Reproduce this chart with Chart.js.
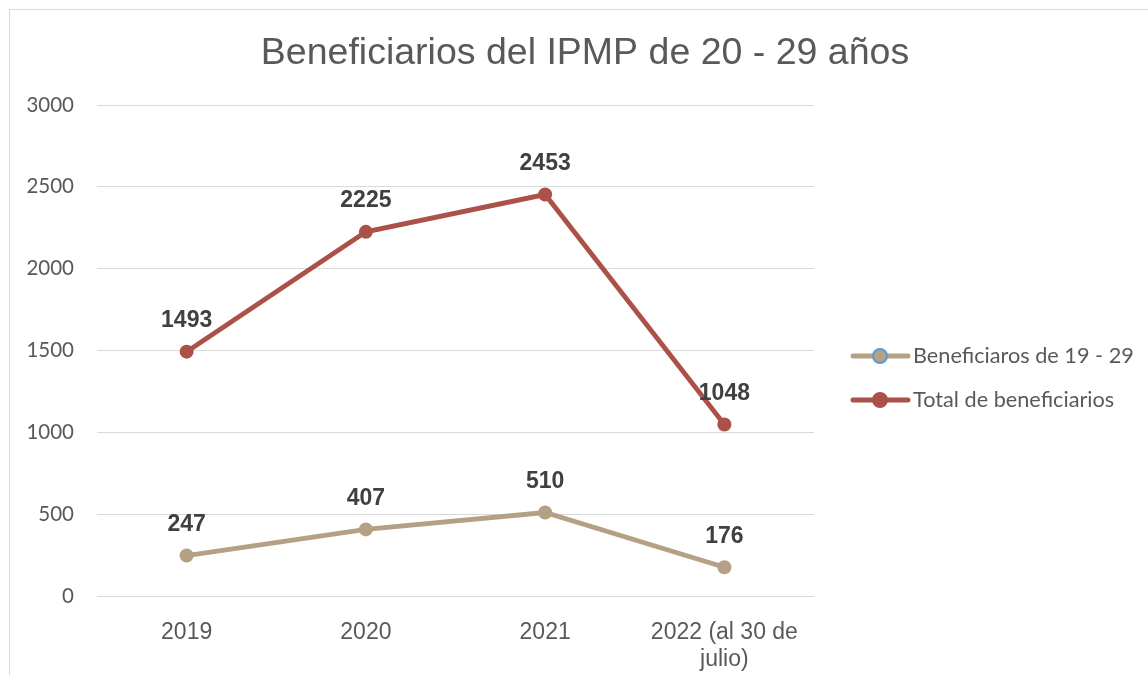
<!DOCTYPE html>
<html>
<head>
<meta charset="utf-8">
<script src="https://cdn.jsdelivr.net/npm/chart.js@4"></script>
<style>
    body { margin: 0; background: #fff; overflow: hidden; }
    .frame { position: absolute; left: 9px; top: 9px; width: 1200px; height: 720px; border: 1px solid #d9d9d9; }
    #chart { position: absolute; left: 0; top: 0; }
</style>
</head>
<body>
<div class="frame"></div>
<canvas id="chart" width="1148" height="675"></canvas>
<script>
const years = ['2019', '2020', '2021', ['2022 (al 30 de', 'julio)']];
const youngValues = [247, 407, 510, 176];
const totalValues = [1493, 2225, 2453, 1048];
const seriesNames = ['Beneficiaros de 19 - 29', 'Total de beneficiarios'];
const yTicks = { min: 0, max: 3000, step: 500 };

const tan = '#b4a085';
const red = '#ab5148';

// value labels above each point
const valueLabels = {
    id: 'valueLabels',
    afterDatasetsDraw(chart) {
        const ctx = chart.ctx;
        ctx.save();
        ctx.font = 'bold 23px "Liberation Sans", Arial, sans-serif';
        ctx.fillStyle = '#404040';
        ctx.textAlign = 'center';
        ctx.textBaseline = 'middle';
        chart.data.datasets.forEach((ds, i) => {
            chart.getDatasetMeta(i).data.forEach((pt, j) => {
                ctx.fillText(ds.data[j], pt.x, pt.y - 31);
            });
        });
        ctx.restore();
    }
};

// legend with line + marker, like the office chart
const sideLegend = {
    id: 'sideLegend',
    afterDraw(chart) {
        const ctx = chart.ctx;
        const x0 = chart.chartArea.right + 39;
        ctx.save();
        chart.data.datasets.forEach((ds, i) => {
            const y = 356 + i * 44;
            ctx.strokeStyle = ds.borderColor;
            ctx.lineWidth = 5;
            ctx.lineCap = 'round';
            ctx.beginPath();
            ctx.moveTo(x0, y);
            ctx.lineTo(x0 + 55, y);
            ctx.stroke();
            ctx.beginPath();
            ctx.arc(x0 + 27, y, 7, 0, Math.PI * 2);
            ctx.fillStyle = ds.pointBackgroundColor;
            ctx.fill();
            ctx.lineWidth = 2;
            ctx.strokeStyle = ds.legendMarkerBorder;
            ctx.stroke();
            ctx.fillStyle = '#595959';
            ctx.font = '21.7px Lato, sans-serif';
            ctx.textAlign = 'left';
            ctx.textBaseline = 'middle';
            ctx.fillText(ds.label, x0 + 60, y);
        });
        ctx.restore();
    }
};

new Chart(document.getElementById('chart'), {
    type: 'line',
    data: {
        labels: years,
        datasets: [
            {
                label: seriesNames[0],
                data: youngValues,
                borderColor: tan,
                backgroundColor: tan,
                pointBackgroundColor: tan,
                legendMarkerBorder: '#5b9bd5',
                borderWidth: 4.8,
                pointRadius: 7,
                pointBorderWidth: 0,
                tension: 0
            },
            {
                label: seriesNames[1],
                data: totalValues,
                borderColor: red,
                backgroundColor: red,
                pointBackgroundColor: red,
                legendMarkerBorder: red,
                borderWidth: 4.8,
                pointRadius: 7,
                pointBorderWidth: 0,
                tension: 0
            }
        ]
    },
    options: {
        responsive: false,
        animation: false,
        devicePixelRatio: 1,
        layout: { padding: { left: 22, right: 0, top: 0, bottom: 0 } },
        plugins: {
            legend: { display: false },
            tooltip: { enabled: false },
            title: {
                display: true,
                text: 'Beneficiarios del IPMP de 20 - 29 años',
                color: '#595959',
                font: { family: '"Liberation Sans", Arial, sans-serif', size: 37.5, weight: 'normal', lineHeight: 1.2 },
                padding: { top: 31, bottom: 29 }
            }
        },
        scales: {
            x: {
                offset: true,
                grid: { display: false },
                border: { display: false },
                ticks: {
                    color: '#595959',
                    padding: 15,
                    maxRotation: 0,
                    font: { family: '"Liberation Sans", Arial, sans-serif', size: 23, lineHeight: 1.17 }
                },
                afterFit(scale) { scale.height = 79; }
            },
            y: {
                min: yTicks.min,
                max: yTicks.max,
                grid: { color: '#d9d9d9', lineWidth: 1, drawTicks: false },
                border: { display: false },
                ticks: {
                    stepSize: yTicks.step,
                    color: '#595959',
                    padding: 23,
                    font: { family: 'Lato, sans-serif', size: 20.5 },
                    callback: (v) => String(v)
                },
                afterFit(scale) { scale.width = 75; }
            },
            legendSpace: {
                type: 'linear',
                position: 'right',
                grid: { display: false },
                border: { display: false },
                ticks: { display: false },
                afterFit(scale) { scale.width = 334; }
            }
        }
    },
    plugins: [valueLabels, sideLegend]
});
</script>
</body>
</html>
